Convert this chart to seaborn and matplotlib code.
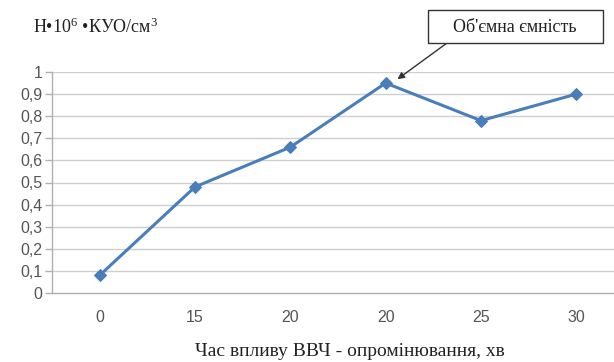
import matplotlib
matplotlib.use("Agg")
import matplotlib.pyplot as plt
from matplotlib.patches import Rectangle
import seaborn as sns
import pandas as pd
import numpy as np

# Exposure time categories (minutes) and measured values
categories = ["0", "15", "20", "20 ", "25", "30"]
tick_labels = ["0", "15", "20", "20", "25", "30"]
values = [0.08, 0.48, 0.66, 0.95, 0.78, 0.90]
y_ticks = [0, 0.1, 0.2, 0.3, 0.4, 0.5, 0.6, 0.7, 0.8, 0.9, 1.0]
y_tick_labels = ["0", "0,1", "0,2", "0,3", "0,4", "0,5", "0,6", "0,7", "0,8", "0,9", "1"]

sns.set_theme(style="white")
plt.rcParams["font.family"] = ["Liberation Sans", "DejaVu Sans"]
plt.rcParams["mathtext.fontset"] = "custom"
plt.rcParams["mathtext.rm"] = "Liberation Serif"
plt.rcParams["mathtext.it"] = "Liberation Serif:italic"
plt.rcParams["mathtext.bf"] = "Liberation Serif:bold"

df = pd.DataFrame({"pos": np.arange(len(categories)), "value": values})

W, H = 614, 362
fig = plt.figure(figsize=(W / 100, H / 100), dpi=100)
ax = fig.add_axes([52 / W, 1 - 293 / H, 572 / W, 221 / H])

line_color = "#4a7ebb"
sns.lineplot(data=df, x="pos", y="value", ax=ax, color=line_color, linewidth=2.2,
             marker="D", markersize=6, markeredgecolor=line_color, markerfacecolor=line_color)

ax.set_xlim(-0.5, len(categories) - 0.5)
ax.set_ylim(0, 1)
ax.set_xticks(np.arange(len(categories)))
ax.set_xticklabels(tick_labels)
ax.set_yticks(y_ticks)
ax.set_yticklabels(y_tick_labels)
ax.set_xlabel("")
ax.set_ylabel("")

# Horizontal gridlines and grey axes
for y in y_ticks[1:]:
    ax.axhline(y, color="#cfcfcf", linewidth=1.0, zorder=0)
for side in ["top", "right"]:
    ax.spines[side].set_visible(False)
for side in ["left", "bottom"]:
    ax.spines[side].set_color("#b0b0b0")
    ax.spines[side].set_linewidth(1.0)

# Category boundary tick marks on x axis
ax.set_xticks(np.arange(len(categories) + 1) - 0.5, minor=True)
ax.tick_params(axis="x", which="major", length=0, pad=12, labelsize=11.5, labelcolor="#555555")
ax.tick_params(axis="x", which="minor", length=5, width=1, color="#b0b0b0", direction="out")
ax.tick_params(axis="y", which="major", length=5, width=1, color="#b0b0b0", direction="out",
               pad=2, labelsize=11.5, labelcolor="#555555", left=True)

serif = ["Liberation Serif", "DejaVu Serif"]
fig.text(33 / W, 1 - 27 / H, "Н•10$^{6}$ •КУО/см$^{3}$", family=serif, fontsize=13,
         color="#222222", va="center", ha="left")
fig.text(350 / W, 1 - 351 / H, "Час впливу ВВЧ - опромінювання, хв", family=serif,
         fontsize=14, color="#222222", va="center", ha="center")

# Callout box with arrow pointing at the peak
box = Rectangle((428 / W, 1 - 43 / H), 175 / W, 33 / H, transform=fig.transFigure,
                facecolor="white", edgecolor="#333333", linewidth=1.0)
fig.add_artist(box)
fig.text(515 / W, 1 - 27 / H, "Об'ємна ємність", family=serif, fontsize=13,
         color="#222222", va="center", ha="center")
ax.annotate("", xy=(3.1, 0.96), xycoords="data",
            xytext=(447 / W, 1 - 43 / H), textcoords="figure fraction",
            arrowprops=dict(arrowstyle="-|>", color="#333333", lw=1.0,
                            shrinkA=0, shrinkB=2, mutation_scale=10),
            annotation_clip=False)

fig.savefig("out.png", dpi=100)
